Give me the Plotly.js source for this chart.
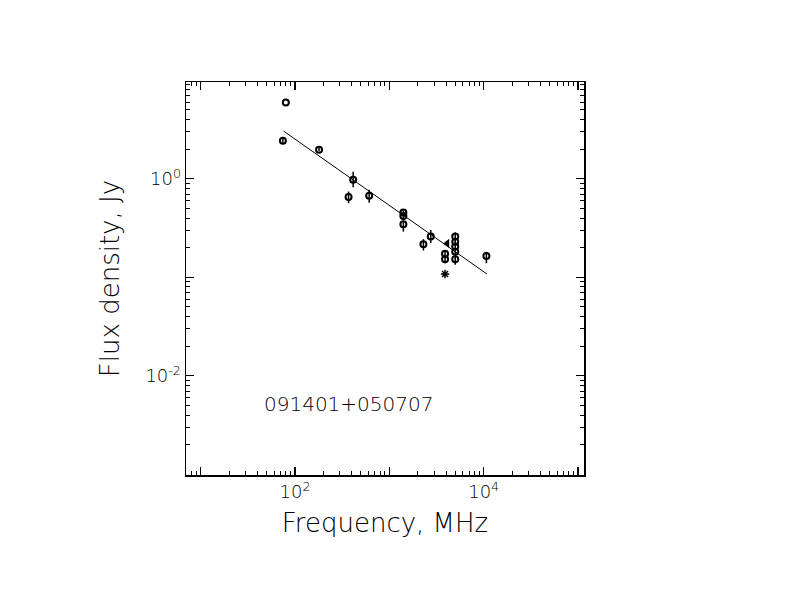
<!DOCTYPE html>
<html>
<head>
<meta charset="utf-8">
<script src="https://cdn.plot.ly/plotly-3.0.1.min.js"></script>
<style>html,body{margin:0;padding:0;background:#fff;}</style>
</head>
<body>
<div id="chart" style="width:792px;height:612px;"></div>
<script>
// Measured flux densities (MHz, Jy) with error bounds
const freq   = [80, 74.5, 180, 414, 370, 612, 1410, 1410, 1410, 2750, 2300, 5000, 5000, 5000, 5000, 5000, 3900, 3900, 10700];
const flux   = [5.97, 2.43, 1.97, 0.977, 0.652, 0.672, 0.454, 0.42, 0.346, 0.259, 0.217, 0.259, 0.230, 0.205, 0.182, 0.153, 0.173, 0.153, 0.165];
const fluxLo = [5.97, 2.30, 1.90, 0.82, 0.566, 0.57, 0.43, 0.40, 0.291, 0.223, 0.187, 0.23, 0.215, 0.19, 0.17, 0.134, 0.160, 0.139, 0.139];
const fluxHi = [5.97, 2.56, 2.05, 1.18, 0.743, 0.773, 0.48, 0.44, 0.377, 0.303, 0.244, 0.285, 0.245, 0.22, 0.195, 0.168, 0.186, 0.165, 0.182];
// Special points
const triFreq = [4110];
const triFlux = [0.221];
const starFreq = [3900];
const starFlux = [0.108];
// Spectral fit line endpoints
const fitFreq = [75.9, 10860];
const fitFlux = [3.05, 0.108];
// Axis ticks (labelled decades)
const xTickVals = [100, 10000];
const xTickText = ['10<sup>2</sup>', '10<sup>4</sup>'];
const yTickVals = [0.01, 1];
const yTickText = ['10<sup>-2</sup>', '10<sup>0</sup>'];
// Unlabelled decades
const xDecadesPlain = [10, 1000, 100000];
const yDecadesPlain = [0.001, 0.1, 10];
const sourceName = '091401+050707';

const X_RANGE = [0.845, 5.064];
const Y_RANGE = [-3.007, 0.983];

function minorVals(lo, hi) {
  const v = [];
  for (let e = lo; e <= hi; e++) for (let d = 2; d <= 9; d++) v.push(d * Math.pow(10, e));
  return v;
}

const errPlus = flux.map((f, i) => fluxHi[i] - f);
const errMinus = flux.map((f, i) => f - fluxLo[i]);

const FONT = 'DejaVu Sans';

const traces = [
  {
    x: fitFreq, y: fitFlux, mode: 'lines', type: 'scatter',
    line: {color: '#000', width: 1}, hoverinfo: 'skip'
  },
  {
    x: freq, y: flux, mode: 'markers', type: 'scatter',
    marker: {symbol: 'circle-open', size: 6, color: '#000', line: {width: 2, color: '#000'}},
    error_y: {type: 'data', symmetric: false, array: errPlus, arrayminus: errMinus,
              color: '#000', thickness: 1.5, width: 0}
  },
  {
    x: triFreq, y: triFlux, mode: 'markers', type: 'scatter',
    marker: {symbol: 'triangle-left', size: 8, color: '#000'}
  },
  {
    x: starFreq, y: starFlux, mode: 'markers', type: 'scatter',
    marker: {symbol: 'asterisk-open', size: 7, color: '#000', line: {width: 1.5, color: '#000'}}
  },
  { x: [], y: [], xaxis: 'x2', yaxis: 'y2', type: 'scatter', mode: 'markers', hoverinfo: 'skip' }
];

const axisCommon = {
  type: 'log', showgrid: false, zeroline: false,
  showline: true, linecolor: '#000', linewidth: 1.5, mirror: 'ticks',
  ticks: 'inside', ticklen: 8, tickwidth: 1.2, tickcolor: '#000',
  tickmode: 'array',
  tickfont: {family: FONT, size: 18, color: '#000', weight: 300}
};

const layout = {
  width: 792, height: 612,
  margin: {l: 186, r: 208, t: 82, b: 137},
  paper_bgcolor: '#fff', plot_bgcolor: '#fff',
  showlegend: false,
  xaxis: Object.assign({}, axisCommon, {
    range: X_RANGE,
    tickvals: xTickVals, ticktext: xTickText,
    minor: {tickmode: 'array', tickvals: minorVals(0, 5), ticks: 'inside', ticklen: 4, tickwidth: 1, tickcolor: '#000', showgrid: false},
    title: {text: 'Frequency, MHz', font: {family: FONT, size: 26, color: '#000', weight: 200}, standoff: 12}
  }),
  yaxis: Object.assign({}, axisCommon, {
    range: Y_RANGE,
    tickvals: yTickVals, ticktext: yTickText,
    minor: {tickmode: 'array', tickvals: minorVals(-4, 1), ticks: 'inside', ticklen: 4, tickwidth: 1, tickcolor: '#000', showgrid: false},
    title: {text: 'Flux density, Jy', font: {family: FONT, size: 26, color: '#000', weight: 200}, standoff: 18}
  }),
  xaxis2: {
    type: 'log', overlaying: 'x', side: 'bottom', anchor: 'y2', range: X_RANGE,
    showgrid: false, zeroline: false, showline: false, mirror: 'ticks',
    ticks: 'inside', ticklen: 8, tickwidth: 1.2, tickcolor: '#000',
    tickmode: 'array', tickvals: xDecadesPlain, showticklabels: false
  },
  yaxis2: {
    type: 'log', overlaying: 'y', side: 'left', anchor: 'x2', range: Y_RANGE,
    showgrid: false, zeroline: false, showline: false, mirror: 'ticks',
    ticks: 'inside', ticklen: 8, tickwidth: 1.2, tickcolor: '#000',
    tickmode: 'array', tickvals: yDecadesPlain, showticklabels: false
  },
  annotations: [{
    text: sourceName, xref: 'paper', yref: 'paper',
    x: (348 - 186) / 398, y: (475 - 404) / 393,
    xanchor: 'center', yanchor: 'middle', showarrow: false,
    font: {family: FONT, size: 20, color: '#000', weight: 300}
  }]
};

Plotly.newPlot('chart', traces, layout, {staticPlot: true, displayModeBar: false});
</script>
</body>
</html>
